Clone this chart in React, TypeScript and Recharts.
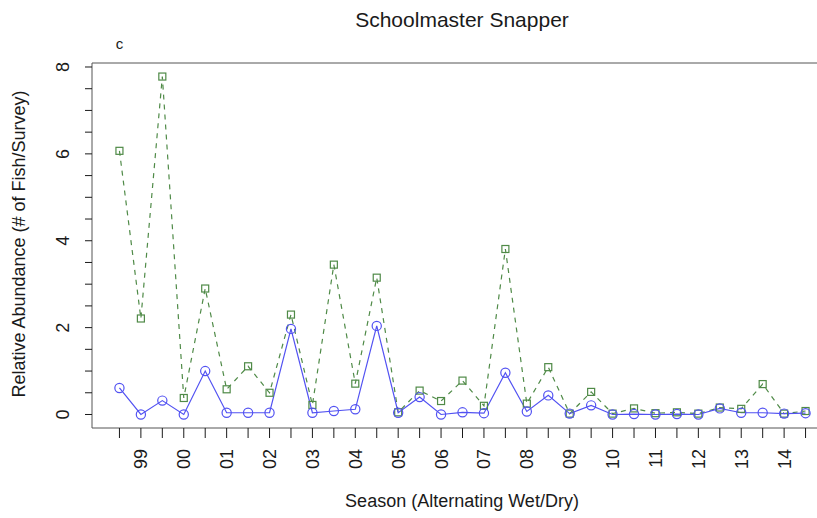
import { LineChart, Line, XAxis, YAxis, ReferenceLine } from 'recharts';

// Schoolmaster Snapper abundance per survey season (wet/dry alternating)
const SQUARE_VALUES = [
  6.07, 2.21, 7.78, 0.38, 2.9, 0.58, 1.11, 0.5, 2.3, 0.22, 3.45, 0.71, 3.15, 0.05, 0.55, 0.31,
  0.78, 0.2, 3.81, 0.25, 1.09, 0.02, 0.52, 0.02, 0.14, 0.03, 0.05, 0.02, 0.16, 0.13, 0.7, 0.02, 0.08,
];
const CIRCLE_VALUES = [
  0.61, 0, 0.32, 0, 1.0, 0.04, 0.04, 0.04, 1.97, 0.04, 0.08, 0.12, 2.04, 0.04, 0.4, 0,
  0.05, 0.03, 0.96, 0.07, 0.44, 0.02, 0.21, 0, 0.01, 0, 0.01, 0, 0.14, 0.04, 0.04, 0.02, 0.03,
];
const YEAR_LABELS = ['99', '00', '01', '02', '03', '04', '05', '06', '07', '08', '09', '10', '11', '12', '13', '14'];
const Y_TICKS = [0, 0.5, 1, 1.5, 2, 2.5, 3, 3.5, 4, 4.5, 5, 5.5, 6, 6.5, 7, 7.5, 8];
const Y_LABELS = [0, 2, 4, 6, 8];

const data = SQUARE_VALUES.map((sq, i) => ({ idx: i, squares: sq, circles: CIRCLE_VALUES[i] }));
const xTicks = data.map((d) => d.idx);

const FONT = '"Liberation Sans", Arial, Helvetica, sans-serif';
const GREEN = '#4f8a47';
const BLUE = '#5252f2';
const INK = '#1a1a1a';

// R-style 4% padding around the data range
const X_DOMAIN: [number, number] = [-1.28, 33.28];
const Y_DOMAIN: [number, number] = [-0.311, 8.092];

function XTick(props: any) {
  const { x, payload } = props;
  const i = payload.value as number;
  const label = i % 2 === 1 ? YEAR_LABELS[(i - 1) / 2] : '';
  if (!label) return null;
  const bx = x + 6.5;
  return (
    <text x={bx} y={449} transform={`rotate(-90, ${bx}, 449)`} textAnchor="end" fontSize={18} fill={INK} fontFamily={FONT}>
      {label}
    </text>
  );
}

function YTick(props: any) {
  const { y, payload } = props;
  const v = payload.value as number;
  if (!Y_LABELS.includes(v)) return null;
  return (
    <text x={69} y={y} transform={`rotate(-90, 69, ${y})`} textAnchor="middle" fontSize={18} fill={INK} fontFamily={FONT}>
      {v}
    </text>
  );
}

function SquareDot(props: any) {
  const { cx, cy, index } = props;
  return <rect key={`sq-${index}`} x={cx - 3.5} y={cy - 3.5} width={7} height={7} fill="none" stroke={GREEN} strokeWidth={1.2} />;
}

function CircleDot(props: any) {
  const { cx, cy, index } = props;
  return <circle key={`ci-${index}`} cx={cx} cy={cy} r={4.6} fill="none" stroke={BLUE} strokeWidth={1.2} />;
}

export default function App() {
  return (
    <div style={{ position: 'absolute', left: 0, top: 0, width: 817, height: 518, overflow: 'hidden', background: '#fff' }}>
      <LineChart width={833} height={518} data={data} margin={{ top: 63, right: 0, bottom: 50, left: 32 }}>
        <XAxis
          dataKey="idx"
          type="number"
          domain={X_DOMAIN}
          ticks={xTicks}
          allowDataOverflow
          height={40}
          tickSize={10}
          tick={<XTick />}
          interval={0}
          axisLine={{ stroke: '#555' }}
          tickLine={{ stroke: INK }}
        />
        <YAxis
          type="number"
          domain={Y_DOMAIN}
          ticks={Y_TICKS}
          allowDataOverflow
          width={60}
          tickSize={7}
          tick={<YTick />}
          interval={0}
          axisLine={{ stroke: '#555' }}
          tickLine={{ stroke: INK }}
        />
        <ReferenceLine y={Y_DOMAIN[1]} stroke="#555" ifOverflow="visible" />
        <Line
          dataKey="squares"
          stroke={GREEN}
          strokeWidth={1.2}
          strokeDasharray="5 5"
          dot={SquareDot}
          isAnimationActive={false}
        />
        <Line dataKey="circles" stroke={BLUE} strokeWidth={1.2} dot={CircleDot} isAnimationActive={false} />
      </LineChart>
      <svg width={817} height={518} style={{ position: 'absolute', left: 0, top: 0, pointerEvents: 'none' }} fontFamily={FONT}>
        <text x={462} y={27} textAnchor="middle" fontSize={21} fill={INK}>
          Schoolmaster Snapper
        </text>
        <text x={119.5} y={49} textAnchor="middle" fontSize={15} fill={INK}>
          c
        </text>
        <text x={25} y={244} transform="rotate(-90, 25, 244)" textAnchor="middle" fontSize={18} fill={INK}>
          Relative Abundance (# of Fish/Survey)
        </text>
        <text x={462} y={507} textAnchor="middle" fontSize={18} fill={INK}>
          Season (Alternating Wet/Dry)
        </text>
      </svg>
    </div>
  );
}
